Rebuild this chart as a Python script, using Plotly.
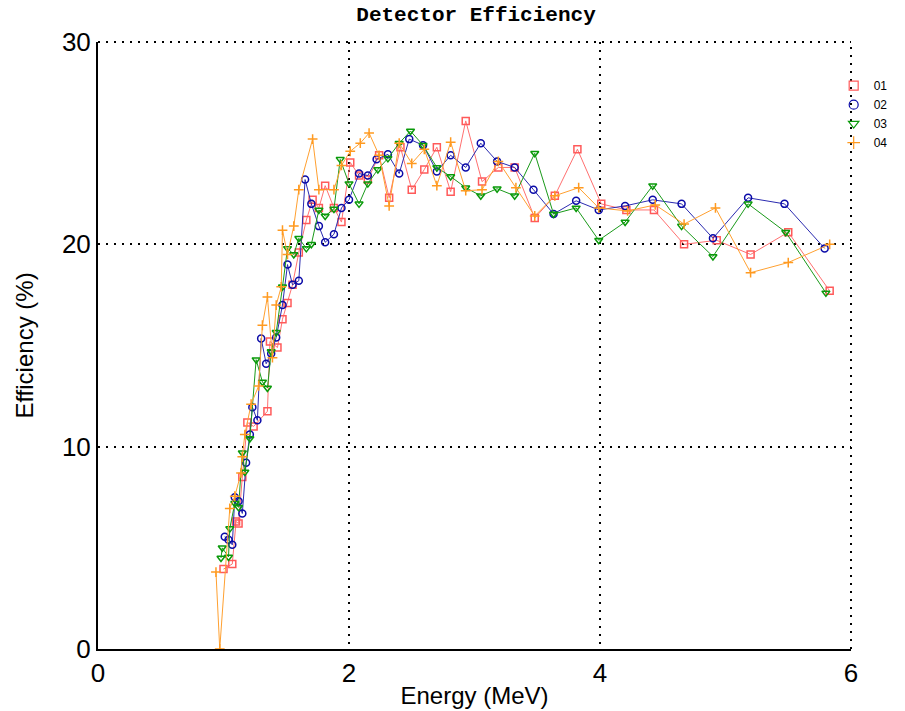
import plotly.graph_objects as go

# ---- data ----
labels = ["01", "02", "03", "04"]

e01 = [1.00, 1.07, 1.10, 1.12, 1.15, 1.19, 1.24, 1.35, 1.37, 1.43, 1.47, 1.51, 1.55, 1.60, 1.66, 1.71,
       1.76, 1.81, 1.88, 1.94, 2.01, 2.08, 2.15, 2.24, 2.32, 2.41, 2.50, 2.60, 2.70, 2.81, 2.93, 3.06,
       3.19, 3.32, 3.48, 3.64, 3.82, 4.01, 4.21, 4.43, 4.67, 4.93, 5.20, 5.50, 5.83]
f01 = [3.95, 4.2, 6.3, 6.2, 8.5, 11.2, 11.0, 11.75, 15.2, 14.9, 16.3, 17.1, 18.0, 19.6, 21.2, 22.2,
       21.8, 22.9, 21.8, 21.1, 24.05, 23.4, 23.2, 24.4, 22.3, 24.8, 22.7, 23.7, 24.8, 22.6, 26.1, 23.1,
       23.8, 23.8, 21.3, 22.4, 24.7, 22.0, 21.7, 21.7, 20.0, 20.2, 19.5, 20.6, 17.7]

e02 = [1.01, 1.04, 1.07, 1.09, 1.12, 1.15, 1.18, 1.21, 1.23, 1.27, 1.30, 1.34, 1.38, 1.42, 1.47, 1.51,
       1.55, 1.60, 1.65, 1.70, 1.76, 1.81, 1.88, 1.94, 2.00, 2.08, 2.15, 2.22, 2.31, 2.40, 2.48, 2.59,
       2.70, 2.81, 2.93, 3.05, 3.18, 3.32, 3.47, 3.63, 3.81, 3.99, 4.20, 4.42, 4.65, 4.90, 5.18, 5.47, 5.79]
f02 = [5.55, 5.4, 5.15, 7.5, 7.3, 6.7, 9.2, 10.6, 11.95, 11.3, 15.35, 14.1, 14.6, 15.4, 17.0, 19.0,
       18.0, 18.2, 23.2, 22.0, 20.9, 20.1, 20.5, 21.8, 22.2, 23.5, 23.4, 24.2, 24.45, 23.5, 25.2, 24.9,
       23.6, 24.4, 23.8, 25.0, 24.1, 23.8, 22.7, 21.5, 22.15, 21.7, 21.9, 22.2, 22.0, 20.3, 22.3, 22.0, 19.8]

e03 = [0.98, 0.99, 1.04, 1.05, 1.09, 1.12, 1.15, 1.17, 1.21, 1.26, 1.31, 1.35, 1.38, 1.42, 1.47, 1.51,
       1.56, 1.60, 1.66, 1.70, 1.76, 1.81, 1.88, 1.93, 2.00, 2.08, 2.15, 2.23, 2.31, 2.40, 2.49, 2.59,
       2.70, 2.81, 2.93, 3.05, 3.18, 3.32, 3.48, 3.63, 3.81, 3.99, 4.20, 4.42, 4.65, 4.90, 5.18, 5.48, 5.80]
f03 = [4.5, 5.0, 4.55, 5.95, 7.2, 7.0, 9.7, 8.75, 10.4, 14.3, 13.2, 12.9, 14.7, 15.65, 17.9, 19.8,
       19.5, 20.3, 19.8, 20.0, 21.7, 21.4, 21.75, 24.2, 23.0, 22.0, 23.0, 23.7, 24.25, 25.0, 25.6, 24.9,
       23.8, 23.35, 22.8, 22.4, 22.75, 22.4, 24.5, 21.5, 21.8, 20.2, 21.1, 22.9, 20.9, 19.4, 22.0, 20.6, 17.6]

e04 = [0.94, 0.97, 1.05, 1.09, 1.14, 1.15, 1.17, 1.22, 1.28, 1.31, 1.35, 1.39, 1.42, 1.46, 1.47, 1.51,
       1.56, 1.60, 1.71, 1.76, 1.88, 1.94, 2.01, 2.09, 2.16, 2.24, 2.32, 2.40, 2.50, 2.60, 2.70, 2.81,
       2.93, 3.06, 3.19, 3.33, 3.48, 3.64, 3.83, 3.99, 4.22, 4.44, 4.67, 4.92, 5.20, 5.50, 5.83]
f04 = [3.8, 0.0, 6.95, 7.55, 8.7, 9.5, 10.6, 12.1, 13.0, 16.0, 17.4, 14.4, 17.0, 17.9, 20.7, 19.5,
       20.9, 22.7, 25.2, 22.7, 22.7, 23.9, 24.6, 25.0, 25.5, 24.4, 21.9, 25.0, 24.0, 24.7, 22.9, 25.05,
       22.65, 22.7, 24.1, 22.8, 21.4, 22.4, 22.8, 21.8, 21.65, 21.95, 21.0, 21.8, 18.6, 19.1, 20.0]

x_ticks = [0, 2, 4, 6]
y_ticks = [0, 10, 20, 30]

series = [
    (labels[0], e01, f01, "#ff5a5a", "#ff7070", "square-open"),
    (labels[1], e02, f02, "#0a0aa8", "#2a2ab0", "circle-open"),
    (labels[2], e03, f03, "#0a9a0a", "#1a9a1a", "triangle-down-open"),
    (labels[3], e04, f04, "#ff9a20", "#ffa030", "cross-thin-open"),
]

fig = go.Figure()
for name, xs, ys, mcol, lcol, sym in series:
    fig.add_trace(go.Scatter(
        x=xs, y=ys, mode="lines+markers", name=name, showlegend=False,
        line=dict(color=lcol, width=1),
        marker=dict(symbol=sym, size=7, color=mcol, line=dict(color=mcol, width=1.5)),
    ))
# legend entries (marker only)
for name, xs, ys, mcol, lcol, sym in series:
    fig.add_trace(go.Scatter(
        x=[None], y=[None], mode="markers", name=name, showlegend=True,
        marker=dict(symbol=sym, size=9, color=mcol, line=dict(color=mcol, width=1.2)),
    ))

font_main = "Liberation Sans, Arial, sans-serif"
dot_dash = "2px,6px"

# dotted frame on the top and right edges (continuation of the grid)
fig.add_shape(type="line", xref="paper", yref="paper", x0=0, x1=1, y0=1, y1=1,
              line=dict(color="black", width=2, dash=dot_dash), layer="below")
fig.add_shape(type="line", xref="paper", yref="paper", x0=1, x1=1, y0=0, y1=1,
              line=dict(color="black", width=2, dash=dot_dash), layer="below")

fig.update_layout(
    width=905, height=711,
    margin=dict(l=98, r=51, t=42, b=62),
    paper_bgcolor="white", plot_bgcolor="white",
    title=dict(text="<b>Detector Efficiency</b>", x=0.526, xanchor="center", y=0.981, yanchor="middle",
               font=dict(family="Liberation Mono, Courier New, monospace", size=21, color="black")),
    xaxis=dict(range=[0, 6], tickvals=x_ticks, ticktext=[str(v) for v in x_ticks],
               showgrid=True, gridcolor="black", gridwidth=2, griddash=dot_dash,
               zeroline=False, showline=True, linecolor="black", linewidth=2, mirror=False,
               automargin=False,
               ticks="", tickfont=dict(family=font_main, size=26, color="black"),
               title=dict(text="Energy (MeV)", font=dict(family=font_main, size=24, color="black"), standoff=0)),
    yaxis=dict(range=[0, 30], tickvals=y_ticks, ticktext=[str(v) for v in y_ticks],
               showgrid=True, gridcolor="black", gridwidth=2, griddash=dot_dash,
               zeroline=False, showline=True, linecolor="black", linewidth=2, mirror=False,
               automargin=False,
               ticks="", tickfont=dict(family=font_main, size=26, color="black"),
               title=dict(text="Efficiency (%)", font=dict(family=font_main, size=24, color="black"), standoff=21)),
    legend=dict(x=0.977, y=0.952, xanchor="left", yanchor="top", bgcolor="rgba(0,0,0,0)",
                font=dict(family="Liberation Sans, Arial", size=12, color="black"),
                tracegroupgap=0, itemwidth=30),
)

fig.write_html("out.html")
